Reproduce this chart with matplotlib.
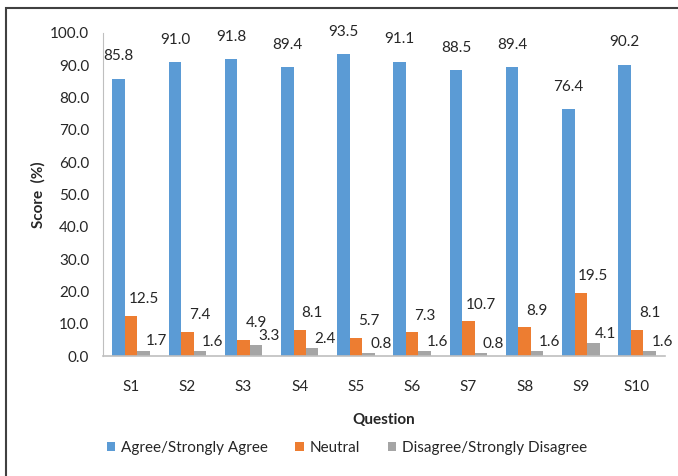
import matplotlib
matplotlib.use("Agg")
import matplotlib.pyplot as plt
from matplotlib.patches import Rectangle
import numpy as np

questions = ["S1", "S2", "S3", "S4", "S5", "S6", "S7", "S8", "S9", "S10"]
agree = [85.8, 91.0, 91.8, 89.4, 93.5, 91.1, 88.5, 89.4, 76.4, 90.2]
neutral = [12.5, 7.4, 4.9, 8.1, 5.7, 7.3, 10.7, 8.9, 19.5, 8.1]
disagree = [1.7, 1.6, 3.3, 2.4, 0.8, 1.6, 0.8, 1.6, 4.1, 1.6]
series_names = ["Agree/Strongly Agree", "Neutral", "Disagree/Strongly Disagree"]
colors = ["#5B9BD5", "#ED7D31", "#A5A5A5"]

plt.rcParams['font.family'] = ['Lato', 'DejaVu Sans']
txt = "#262626"

fig = plt.figure(figsize=(6.78, 4.76), dpi=100)
ax = fig.add_axes([0.152, 0.252, 0.829, 0.679])

# outer frame, runs off the right and bottom edges like the screenshot
fig.patches.append(Rectangle((0.009, -0.05), 1.1, 1.033, transform=fig.transFigure,
                             fill=False, edgecolor="#404040", linewidth=1.5))

x = np.arange(len(questions))
w = 0.222
# label offsets (points) per series, Excel nudged them up/right
offsets = [(0, 11), (9, 7), (9, 1.5)]
for i, (vals, name) in enumerate(zip([agree, neutral, disagree], series_names)):
    pos = x + (i - 1) * w
    ax.bar(pos, vals, w, color=colors[i], label=name)
    for xb, v in zip(pos, vals):
        ax.annotate(f"{v:.1f}", (xb, v), xytext=offsets[i], textcoords="offset points",
                    ha="center", va="bottom", fontsize=11, color=txt)

ax.set_xlim(-0.5, len(questions) - 0.5)
ax.set_ylim(0, 100)
ax.set_yticks(np.arange(0, 101, 10))
ax.set_yticklabels([f"{t:.1f}" for t in np.arange(0, 101, 10)])
ax.set_xticks(x)
ax.set_xticklabels(questions)
ax.tick_params(axis="both", length=0, labelsize=11, colors=txt)
ax.tick_params(axis="y", pad=10)
ax.tick_params(axis="x", pad=17)

for s in ["top", "right"]:
    ax.spines[s].set_visible(False)
ax.spines["left"].set_color("#BFBFBF")
ax.spines["bottom"].set_color("#BFBFBF")
ax.spines["bottom"].set_linewidth(1.2)

ax.set_ylabel("Score  (%)", fontsize=11, fontweight="bold", color=txt, labelpad=3)
ax.set_xlabel("Question", fontsize=11, fontweight="bold", color=txt, labelpad=14)

ax.legend(loc="center", bbox_to_anchor=(0.434, -0.285), ncol=3, frameon=False,
          fontsize=11, handlelength=0.55, handleheight=0.55, handletextpad=0.4,
          columnspacing=1.8, labelcolor=txt)

fig.savefig("out.png", dpi=100)
